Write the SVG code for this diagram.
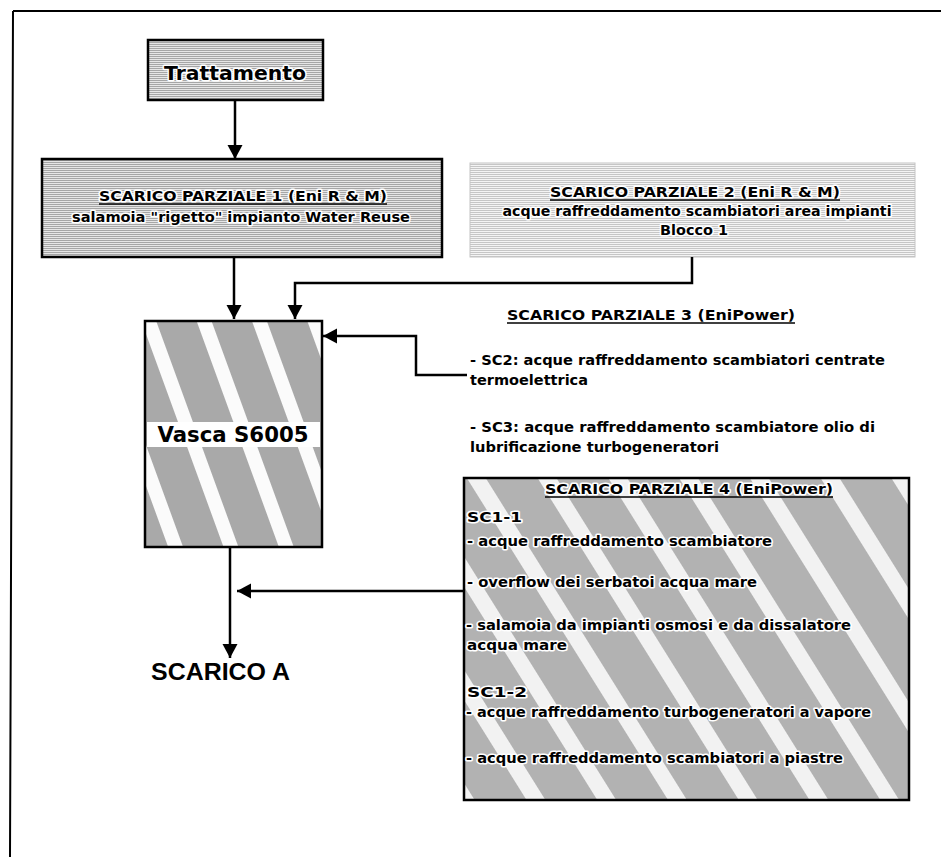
<svg xmlns="http://www.w3.org/2000/svg" width="941" height="857" viewBox="0 0 941 857">
<defs>
<style>
.t{font-family:"DejaVu Sans","Liberation Sans",sans-serif;font-weight:bold;fill:#000}
.s{font-size:13.5px}
.m{font-size:14px}
.h{stroke:#fff;stroke-width:3;paint-order:stroke;stroke-linejoin:round}
.box{stroke:#000;stroke-width:2.5}
.c{fill:none;stroke:#000;stroke-width:2.5}
.u{stroke:#000;stroke-width:1.5}
</style>
<pattern id="dith" width="3" height="2" patternUnits="userSpaceOnUse">
<rect width="3" height="2" fill="#e6e6e6"/>
<rect width="3" height="1" fill="#a6a6a6"/>
</pattern>
<pattern id="dithL" width="3" height="2" patternUnits="userSpaceOnUse">
<rect width="3" height="2" fill="#f4f4f4"/>
<rect width="3" height="1" fill="#c6c6c6"/>
</pattern>
<pattern id="bandV" width="52" height="8" patternUnits="userSpaceOnUse" patternTransform="translate(150,0) rotate(-20)">
<rect width="52" height="8" fill="#fbfbfb"/>
<rect width="38" height="8" fill="#a9a9a9"/>
</pattern>
<pattern id="band4" width="60" height="8" patternUnits="userSpaceOnUse" patternTransform="translate(470,0) rotate(-32)">
<rect width="60" height="8" fill="#f2f2f2"/>
<rect width="44" height="8" fill="#b2b2b2"/>
</pattern>
<marker id="ah" viewBox="0 0 16 16" markerWidth="16" markerHeight="16" refX="14" refY="7.5" orient="auto" markerUnits="userSpaceOnUse">
<path d="M0,0 L14,7.5 L0,15 Z" fill="#000"/>
</marker>
</defs>

<rect width="941" height="857" fill="#fff"/>
<path d="M13,11 H941 M13,11 L10,857" fill="none" stroke="#000" stroke-width="2"/>

<g id="n-trattamento">
<rect x="148" y="40" width="175" height="60" fill="url(#dith)" class="box"/>
<text x="235" y="80" class="t h" font-size="20" text-anchor="middle" textLength="142" lengthAdjust="spacingAndGlyphs">Trattamento</text>
</g>

<g id="n-scarico1">
<rect x="42" y="159" width="400" height="98" fill="url(#dith)" class="box"/>
<text x="243" y="201" class="t m h" text-anchor="middle" textLength="288" lengthAdjust="spacingAndGlyphs">SCARICO PARZIALE 1 (Eni R &amp; M)</text>
<line x1="99" y1="204" x2="387" y2="204" class="u"/>
<text x="241" y="222" class="t m h" text-anchor="middle" textLength="338" lengthAdjust="spacingAndGlyphs">salamoia "rigetto" impianto Water Reuse</text>
</g>

<g id="n-scarico2">
<rect x="470" y="163" width="445" height="94" fill="url(#dithL)" stroke="#c4c4c4" stroke-width="1"/>
<text x="695" y="197" class="t m h" text-anchor="middle" textLength="290" lengthAdjust="spacingAndGlyphs">SCARICO PARZIALE  2 (Eni R &amp; M)</text>
<line x1="550" y1="200" x2="840" y2="200" class="u"/>
<text x="697" y="216" class="t m h" text-anchor="middle" textLength="389" lengthAdjust="spacingAndGlyphs">acque raffreddamento scambiatori area impianti</text>
<text x="694" y="235" class="t m h" text-anchor="middle" textLength="68" lengthAdjust="spacingAndGlyphs">Blocco 1</text>
</g>

<g id="n-vasca">
<rect x="145" y="321" width="177" height="226" fill="url(#bandV)" class="box"/>
<rect x="147" y="422" width="173" height="25" fill="#fff"/>
<text x="233" y="442" class="t h" font-size="21" text-anchor="middle" textLength="151" lengthAdjust="spacingAndGlyphs">Vasca S6005</text>
</g>

<g id="n-scarico3">
<text x="507" y="320" class="t s" textLength="288" lengthAdjust="spacingAndGlyphs">SCARICO PARZIALE  3 (EniPower)</text>
<line x1="507" y1="323" x2="795" y2="323" class="u"/>
<text x="470" y="365" class="t s" textLength="415" lengthAdjust="spacingAndGlyphs">- SC2: acque raffreddamento scambiatori centrate</text>
<text x="470" y="385" class="t s" textLength="118" lengthAdjust="spacingAndGlyphs">termoelettrica</text>
<text x="470" y="432" class="t s" textLength="405" lengthAdjust="spacingAndGlyphs">- SC3: acque raffreddamento scambiatore olio di</text>
<text x="470" y="452" class="t s" textLength="249" lengthAdjust="spacingAndGlyphs">lubrificazione turbogeneratori</text>
</g>

<g id="n-scarico4">
<rect x="464" y="478" width="445" height="322" fill="url(#band4)" class="box"/>
<text x="545" y="494" class="t s h" textLength="288" lengthAdjust="spacingAndGlyphs">SCARICO PARZIALE  4 (EniPower)</text>
<line x1="545" y1="497" x2="833" y2="497" class="u"/>
<text x="467" y="522" class="t s h" textLength="55" lengthAdjust="spacingAndGlyphs">SC1-1</text>
<text x="467" y="546" class="t s h" textLength="305" lengthAdjust="spacingAndGlyphs">- acque raffreddamento scambiatore</text>
<text x="467" y="587" class="t s h" textLength="290" lengthAdjust="spacingAndGlyphs">- overflow dei serbatoi acqua mare</text>
<text x="466" y="630" class="t s h" textLength="385" lengthAdjust="spacingAndGlyphs">- salamoia da impianti osmosi e da dissalatore</text>
<text x="467" y="650" class="t s h" textLength="100" lengthAdjust="spacingAndGlyphs">acqua mare</text>
<text x="467" y="697" class="t s h" textLength="60" lengthAdjust="spacingAndGlyphs">SC1-2</text>
<text x="466" y="717" class="t s h" textLength="405" lengthAdjust="spacingAndGlyphs">- acque raffreddamento turbogeneratori a vapore</text>
<text x="466" y="763" class="t s h" textLength="377" lengthAdjust="spacingAndGlyphs">- acque raffreddamento scambiatori a piastre</text>
</g>

<g id="n-scaricoA">
<text x="151" y="680" font-family="'Liberation Sans',Arial,sans-serif" font-weight="bold" font-size="23" textLength="139" lengthAdjust="spacingAndGlyphs">SCARICO A</text>
</g>

<g id="connectors">
<path d="M235,100 V159" class="c" marker-end="url(#ah)"/>
<path d="M234,257 V319" class="c" marker-end="url(#ah)"/>
<path d="M692,257 V283 H295 V319" class="c" marker-end="url(#ah)"/>
<path d="M467,375 H416 V336 H323" class="c" marker-end="url(#ah)"/>
<path d="M230,547 V658" class="c" marker-end="url(#ah)"/>
<path d="M464,591 H237" class="c" marker-end="url(#ah)"/>
</g>
</svg>
